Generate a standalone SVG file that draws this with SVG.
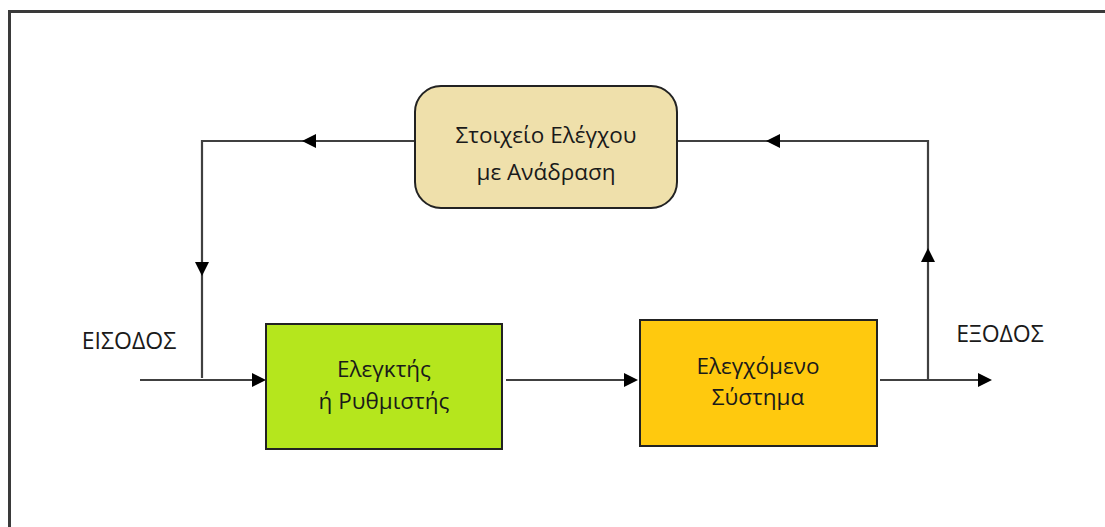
<svg xmlns="http://www.w3.org/2000/svg" width="1105" height="527" viewBox="0 0 1105 527">
<style>
.ln{stroke:#404040;stroke-width:2.2;fill:none}
.bx{stroke:#222;stroke-width:2}
.t{font-family:"Open Sans","Noto Sans","Liberation Sans",sans-serif;font-size:22.5px;fill:#1a1a1a;text-anchor:middle}
.lb{font-size:23px}
.ah{fill:#000}
</style>
<rect width="1105" height="527" fill="#fff"/>
<path d="M9.5 527 V11.5 H1105" stroke="#3a3a3a" stroke-width="3" fill="none"/>
<g id="connectors">
<path class="ln" d="M415 141 H202 V378"/>
<path class="ln" d="M928 380 V141 H677"/>
<path class="ln" d="M140 380 H256"/>
<path class="ln" d="M506 380 H628"/>
<path class="ln" d="M880 380 H980"/>
<polygon class="ah" points="302,141 316,134 316,148"/>
<polygon class="ah" points="766,141 780,134 780,148"/>
<polygon class="ah" points="202,276 195,262 209,262"/>
<polygon class="ah" points="928,248 921,262 935,262"/>
<polygon class="ah" points="266,380 252,373 252,387"/>
<polygon class="ah" points="638,380 624,373 624,387"/>
<polygon class="ah" points="992,380 978,373 978,387"/>
</g>
<g id="feedback">
<rect class="bx" x="415" y="86" width="262" height="122" rx="26" fill="#EFE0AB"/>
<text class="t" x="546" y="143">Στοιχείο Ελέγχου</text>
<text class="t" x="546" y="180">με Ανάδραση</text>
</g>
<g id="controller">
<rect class="bx" x="266" y="324" width="236" height="125" fill="#B5E61D"/>
<text class="t" x="384" y="377">Ελεγκτής</text>
<text class="t" x="384" y="409">ή Ρυθμιστής</text>
</g>
<g id="system">
<rect class="bx" x="640" y="320" width="237" height="126" fill="#FFC90E"/>
<text class="t" x="758" y="374">Ελεγχόμενο</text>
<text class="t" x="758" y="405">Σύστημα</text>
</g>
<g id="input">
<text class="t lb" x="129" y="349">ΕΙΣΟΔΟΣ</text>
</g>
<g id="output">
<text class="t lb" x="1000" y="342">ΕΞΟΔΟΣ</text>
</g>
</svg>
